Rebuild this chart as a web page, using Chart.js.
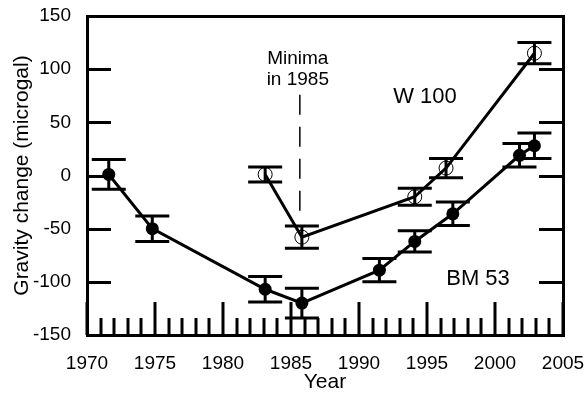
<!DOCTYPE html>
<html>
<head>
<meta charset="utf-8">
<script src="https://cdn.jsdelivr.net/npm/chart.js@4.4.1/dist/chart.umd.min.js"></script>
<style>
    html, body { margin: 0; padding: 0; background: #fff; }
    #wrap { width: 584px; height: 394px; }
</style>
</head>
<body>
<div id="wrap"><canvas id="gravityChart" width="584" height="394"></canvas></div>
<script>
// Station BM 53 (filled circles)
const bmYears  = [1971.6, 1974.8, 1983.1, 1985.8, 1991.5, 1994.1, 1996.9, 2001.8, 2002.9];
const bmValues = [1, -50, -107, -120, -89, -62, -36, 19, 28];
const bmErrors = [14, 12, 12, 14, 11, 10, 11, 11, 12];

// Station W 100 (open circles)
const wYears  = [1983.1, 1985.8, 1994.1, 1996.4, 2002.9];
const wValues = [1, -58, -20, 7, 115];
const wErrors = [7, 10.5, 8, 9, 10];

// dashed marker for the 1985 minima
const minimaYears  = [1985.65, 1985.65];
const minimaValues = [76, -35];

// axis ranges
const xRange = [1970, 2005];
const yRange = [-150, 150];

const FONT = "'Liberation Sans', Arial, sans-serif";

const toPoints = (xs, ys) => xs.map((x, i) => ({ x: x, y: ys[i] }));

const errorSets = [
    { years: bmYears, values: bmValues, errors: bmErrors },
    { years: wYears, values: wValues, errors: wErrors }
];

const labels = [
    { text: ['Minima', 'in 1985'], x: 1985.5, y: 110, size: 19, lineGap: 21 },
    { text: ['W 100'], x: 1994.85, y: 74, size: 22 },
    { text: ['BM 53'], x: 1998.75, y: -97, size: 22 }
];

const framePlugin = {
    id: 'frame',
    beforeDatasetsDraw(chart) {
        const { ctx, scales: { x, y } } = chart;
        ctx.save();
        ctx.strokeStyle = '#000';
        ctx.lineWidth = 3;
        const capHalf = 17;
        errorSets.forEach(set => {
            set.years.forEach((yr, i) => {
                const px = x.getPixelForValue(yr);
                const hi = y.getPixelForValue(set.values[i] + set.errors[i]);
                const lo = y.getPixelForValue(set.values[i] - set.errors[i]);
                ctx.beginPath();
                ctx.moveTo(px, hi); ctx.lineTo(px, lo);
                ctx.moveTo(px - capHalf, hi); ctx.lineTo(px + capHalf, hi);
                ctx.moveTo(px - capHalf, lo); ctx.lineTo(px + capHalf, lo);
                ctx.stroke();
            });
        });
        ctx.restore();
    },
    afterDraw(chart) {
        const { ctx, chartArea: a, scales: { x, y } } = chart;
        ctx.save();
        ctx.strokeStyle = '#000';

        // inward ticks
        ctx.lineWidth = 3;
        ctx.beginPath();
        x.ticks.forEach(t => {
            const px = Math.round(x.getPixelForValue(t.value));
            const len = t.value % 5 === 0 ? 33 : 17;
            ctx.moveTo(px, a.bottom);
            ctx.lineTo(px, a.bottom - len);
        });
        y.ticks.forEach(t => {
            if (t.value <= yRange[0] || t.value >= yRange[1]) return;
            const py = Math.round(y.getPixelForValue(t.value)) + 0.5;
            ctx.moveTo(a.left, py); ctx.lineTo(a.left + 24, py);
            ctx.moveTo(a.right, py); ctx.lineTo(a.right - 24, py);
        });
        ctx.stroke();

        // box
        ctx.lineWidth = 3;
        ctx.strokeRect(Math.round(a.left) + 0.5, Math.round(a.top) + 0.5,
            Math.round(a.right - a.left), Math.round(a.bottom - a.top));

        // annotations
        ctx.fillStyle = '#000';
        ctx.textAlign = 'center';
        ctx.textBaseline = 'middle';
        labels.forEach(l => {
            ctx.font = l.size + 'px ' + FONT;
            const px = x.getPixelForValue(l.x);
            const py = y.getPixelForValue(l.y);
            l.text.forEach((line, i) => ctx.fillText(line, px, py + i * (l.lineGap || 0)));
        });
        ctx.restore();
    }
};

const ctx = document.getElementById('gravityChart').getContext('2d');

new Chart(ctx, {
    type: 'line',
    data: {
        datasets: [
            {
                label: 'BM 53',
                data: toPoints(bmYears, bmValues),
                borderColor: '#000',
                borderWidth: 3,
                pointRadius: 6.5,
                pointBackgroundColor: '#000',
                pointBorderColor: '#000',
                pointBorderWidth: 0,
                tension: 0
            },
            {
                label: 'W 100',
                data: toPoints(wYears, wValues),
                borderColor: '#000',
                borderWidth: 3,
                pointRadius: 7,
                pointBackgroundColor: 'rgba(0,0,0,0)',
                pointBorderColor: '#000',
                pointBorderWidth: 1,
                tension: 0
            },
            {
                label: 'Minima',
                data: toPoints(minimaYears, minimaValues),
                borderColor: '#000',
                borderWidth: 1.5,
                borderDash: [20, 12],
                pointRadius: 0
            }
        ]
    },
    options: {
        responsive: false,
        animation: false,
        devicePixelRatio: 1,
        layout: { padding: 0 },
        plugins: {
            legend: { display: false },
            tooltip: { enabled: false }
        },
        scales: {
            x: {
                type: 'linear',
                min: xRange[0],
                max: xRange[1],
                grid: { display: false, drawTicks: false },
                border: { display: false },
                ticks: {
                    stepSize: 1,
                    autoSkip: false,
                    maxRotation: 0,
                    padding: 17,
                    color: '#000',
                    font: { family: FONT, size: 19 },
                    callback: v => (v % 5 === 0 ? String(v) : '')
                },
                title: {
                    display: true,
                    text: 'Year',
                    color: '#000',
                    font: { family: FONT, size: 21, lineHeight: 1 },
                    padding: { top: 0, bottom: 1 }
                },
                afterFit: s => {
                    s.height = 59;
                    s.paddingLeft = 0;
                    s.paddingRight = 0;
                }
            },
            y: {
                min: yRange[0],
                max: yRange[1],
                grid: { display: false, drawTicks: false },
                border: { display: false },
                ticks: {
                    stepSize: 50,
                    padding: 16,
                    color: '#000',
                    font: { family: FONT, size: 19 }
                },
                title: {
                    display: true,
                    text: 'Gravity change (microgal)',
                    color: '#000',
                    font: { family: FONT, size: 21, lineHeight: 1 },
                    padding: { top: 11.5, bottom: 0 }
                },
                afterFit: s => {
                    s.width = 87;
                    s.paddingTop = 16;
                    s.paddingBottom = 0;
                }
            },
            // empty right-hand axis, only reserves the right margin
            yRight: {
                position: 'right',
                min: yRange[0],
                max: yRange[1],
                grid: { display: false, drawTicks: false },
                border: { display: false },
                ticks: { display: false },
                afterFit: s => {
                    s.width = 21;
                    s.paddingTop = 16;
                    s.paddingBottom = 0;
                }
            }
        }
    },
    plugins: [framePlugin]
});
</script>
</body>
</html>
